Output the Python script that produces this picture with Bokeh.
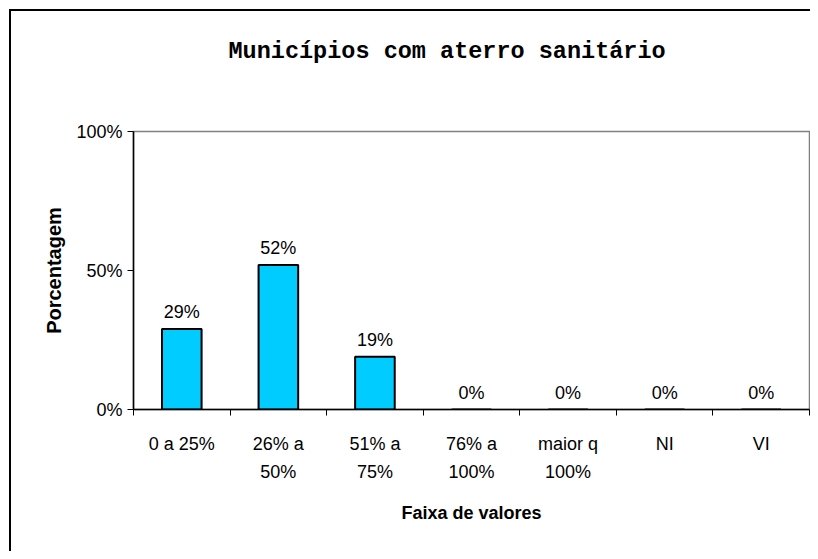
from bokeh.plotting import figure
from bokeh.models import (ColumnDataSource, Range1d, FixedTicker, LinearAxis,
                          NumeralTickFormatter, LabelSet, Title)
from bokeh.core.properties import value
from bokeh.embed import file_html
from bokeh.resources import INLINE

# ---- data ----
cat_line1 = ["0 a 25%", "26% a", "51% a", "76% a", "maior q", "NI", "VI"]
cat_line2 = ["", "50%", "75%", "100%", "100%", "", ""]
values = [0.29, 0.52, 0.19, 0.0, 0.0, 0.0, 0.0]
y_ticks = [0, 0.5, 1.0]
title_text = "Municípios com aterro sanitário"
x_title = "Faixa de valores"
y_title = "Porcentagem"

n = len(values)
centers = [i + 0.5 for i in range(n)]
labels = [f"{round(v * 100)}%" for v in values]
src = ColumnDataSource(dict(x=centers, top=values, label=labels))

W, H = 810, 551
FL, FR, FT, FB = 133, 809, 131, 409   # frame edges in canvas pixels
p = figure(width=W, height=H, output_backend="svg", toolbar_location=None,
           x_range=Range1d(0, n), y_range=Range1d(0, 1),
           min_border_left=FL, min_border_right=W - FR,
           min_border_top=FT, min_border_bottom=H - FB)
p.background_fill_color = "white"
p.border_fill_color = None
# outer chart-area border (top and left edges visible), drawn behind the canvas
p.styles = {
    "background-color": "#ffffff",
    "box-shadow": "inset 9px 9px 0 0 #ffffff, inset 11px 11px 0 0 #000000",
}
p.outline_line_color = "#808080"
p.outline_line_width = 1.5
p.xgrid.visible = False
p.ygrid.visible = False

FONT = "Liberation Sans"

# spacer above the frame, then the title further out
p.add_layout(Title(text=" ", text_font_size="10px", standoff=54,
                   text_color="white"), "above")
p.add_layout(Title(text=title_text, align="left", offset=95, standoff=0,
                   text_font="Liberation Mono", text_font_style="bold",
                   text_font_size="23.5px", text_color="black"), "above")
p.title.visible = False

p.vbar(x="x", top="top", width=0.41, source=src, fill_color="#00CCFF",
       line_color="black", line_width=2)
p.add_layout(LabelSet(x="x", y="top", text="label", source=src,
                      y_offset=7, text_align="center", text_baseline="bottom",
                      text_font=value(FONT), text_font_size=value("18px"),
                      text_color="black"))

# y axis
ya = p.yaxis[0]
ya.ticker = FixedTicker(ticks=y_ticks, minor_ticks=[])
ya.formatter = NumeralTickFormatter(format="0%")
ya.major_tick_out = 6
ya.major_tick_in = 0
ya.minor_tick_line_color = None
ya.major_tick_line_color = "black"
ya.axis_line_color = "black"
ya.axis_line_width = 1.5
ya.major_label_standoff = 5
ya.major_label_text_font = FONT
ya.major_label_text_font_size = "18px"
ya.major_label_text_color = "black"
ya.axis_label = y_title
ya.axis_label_text_font = FONT
ya.axis_label_text_font_style = "bold"
ya.axis_label_text_font_size = "20px"
ya.axis_label_text_color = "black"
ya.axis_label_standoff = 8

# x axis A: boundary ticks only
xa = p.xaxis[0]
xa.ticker = FixedTicker(ticks=list(range(n + 1)), minor_ticks=[])
xa.major_label_overrides = {i: "" for i in range(n + 1)}
xa.major_label_text_font_size = "0px"
xa.major_label_standoff = 0
xa.major_tick_out = 6
xa.major_tick_in = 0
xa.minor_tick_line_color = None
xa.major_tick_line_color = "black"
xa.axis_line_color = "black"
xa.axis_line_width = 1.5

# x axis B: first line of category labels
xb = LinearAxis(ticker=FixedTicker(ticks=centers, minor_ticks=[]),
                major_label_overrides={c: l for c, l in zip(centers, cat_line1)},
                axis_line_color=None, major_tick_line_color=None,
                minor_tick_line_color=None, major_label_standoff=12,
                major_label_text_font=FONT, major_label_text_font_size="18px",
                major_label_text_color="black")
p.add_layout(xb, "below")

# x axis C: second line of category labels + axis title
xc = LinearAxis(ticker=FixedTicker(ticks=centers, minor_ticks=[]),
                major_label_overrides={c: l for c, l in zip(centers, cat_line2)},
                axis_line_color=None, major_tick_line_color=None,
                minor_tick_line_color=None, major_label_standoff=-1,
                major_label_text_font=FONT, major_label_text_font_size="18px",
                major_label_text_color="black",
                axis_label=x_title, axis_label_text_font=FONT,
                axis_label_text_font_style="bold", axis_label_text_font_size="18px",
                axis_label_text_color="black", axis_label_standoff=18)
p.add_layout(xc, "below")

open("out.html", "w").write(file_html(p, INLINE))
